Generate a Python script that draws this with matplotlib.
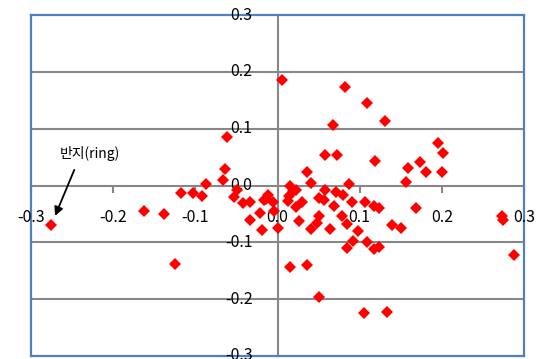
import matplotlib
matplotlib.use("Agg")
import matplotlib.pyplot as plt

# CONSTANTS
FRAME_COLOR = "#4F81BD"
GRID_COLOR = "#878787"
POINT_COLOR = "#FF0000"
FONT_FAMILY = ["Noto Sans CJK KR", "DejaVu Sans"]

plt.rcParams["font.family"] = FONT_FAMILY

# DATA
x_values = [-0.276, -0.162, -0.138, -0.125, -0.118, -0.103, -0.092, -0.087, -0.066, -0.064,
            -0.062, -0.049, -0.053, -0.042, -0.033, -0.033, -0.021, -0.019, -0.011, -0.014,
            -0.016, -0.005, -0.004, 0.000, 0.005, 0.015, 0.022, 0.019, 0.014, 0.013,
            0.022, 0.030, 0.026, 0.036, 0.041, 0.041, 0.015, 0.036, 0.050, 0.048,
            0.050, 0.050, 0.056, 0.058, 0.058, 0.067, 0.069, 0.064, 0.071, 0.073,
            0.078, 0.080, 0.082, 0.084, 0.085, 0.087, 0.091, 0.092, 0.098, 0.105,
            0.106, 0.109, 0.109, 0.118, 0.124, 0.118, 0.123, 0.119, 0.131, 0.133,
            0.139, 0.150, 0.156, 0.159, 0.168, 0.174, 0.181, 0.195, 0.201, 0.200,
            0.273, 0.275, 0.288]
y_values = [-0.069, -0.044, -0.051, -0.139, -0.013, -0.013, -0.019, 0.003, 0.010, 0.029,
            0.085, -0.008, -0.020, -0.031, -0.029, -0.060, -0.048, -0.078, -0.016, -0.023,
            -0.026, -0.029, -0.045, -0.074, 0.186, 0.000, -0.008, -0.010, -0.018, -0.028,
            -0.037, -0.029, -0.063, 0.023, 0.005, -0.077, -0.144, -0.140, -0.197, -0.066,
            -0.054, -0.022, -0.025, -0.008, 0.054, 0.107, -0.036, -0.077, -0.012, 0.054,
            -0.054, -0.016, 0.174, -0.067, -0.110, 0.003, -0.029, -0.098, -0.080, -0.225,
            -0.029, 0.146, -0.100, -0.036, -0.040, -0.111, -0.109, 0.043, 0.113, -0.223,
            -0.069, -0.074, 0.006, 0.031, -0.039, 0.041, 0.024, 0.075, 0.057, 0.023,
            -0.054, -0.060, -0.123]

x_ticks = [-0.3, -0.2, -0.1, 0.0, 0.1, 0.2, 0.3]
y_ticks = [-0.3, -0.2, -0.1, 0.0, 0.1, 0.2, 0.3]

annotation_label = "반지(ring)"
annotation_point = (x_values[0], y_values[0])

# GRAPH
fig = plt.figure(figsize=(5.39, 3.59), dpi=100)
fig.set_facecolor("white")
ax = fig.add_axes([31 / 539, 3 / 359, 493 / 539, 341 / 359])

ax.set_xlim(-0.3, 0.3)
ax.set_ylim(-0.3, 0.3)
ax.set_xticks([])
ax.set_yticks([])

# Blue frame round the plot area
for side in ["top", "bottom", "left", "right"]:
    ax.spines[side].set_color(FRAME_COLOR)
    ax.spines[side].set_linewidth(1.6)

# Horizontal gridlines and the two centre axes
for v in y_ticks[1:-1]:
    ax.axhline(v, color=GRID_COLOR, linewidth=1.5, zorder=1)
ax.axvline(0, color=GRID_COLOR, linewidth=1.5, zorder=1)

# Short tick marks below the horizontal axis
ax.plot(x_ticks, [0] * len(x_ticks), linestyle="", marker=3, markersize=5,
        markeredgewidth=1.5, color=GRID_COLOR, zorder=1, clip_on=False)

# Tick labels sitting next to the centre axes
for v in x_ticks:
    ax.annotate(f"{v:.1f}", xy=(v, 0), xytext=(0, -32), textcoords="offset pixels",
                ha="center", va="center", fontsize=11.5, color="black", zorder=3,
                annotation_clip=False)
for v in y_ticks:
    ax.annotate(f"{v:.1f}", xy=(0, v), xytext=(-25, 0), textcoords="offset pixels",
                ha="right", va="center", fontsize=11.5, color="black", zorder=3,
                annotation_clip=False)

# Scatter the data
ax.plot(x_values, y_values, linestyle="", marker="D", markersize=6.3,
        color=POINT_COLOR, markeredgewidth=0, zorder=4, clip_on=False)

# Label one point
ax.text(-0.265, 0.056, annotation_label, fontsize=10, ha="left", va="center", color="black")
ax.annotate("", xy=(annotation_point[0] + 0.004, annotation_point[1] + 0.011),
            xytext=(-0.246, 0.032),
            arrowprops=dict(arrowstyle="-|>", color="black", lw=1.3, mutation_scale=13))

fig.savefig("out.png", dpi=100)
